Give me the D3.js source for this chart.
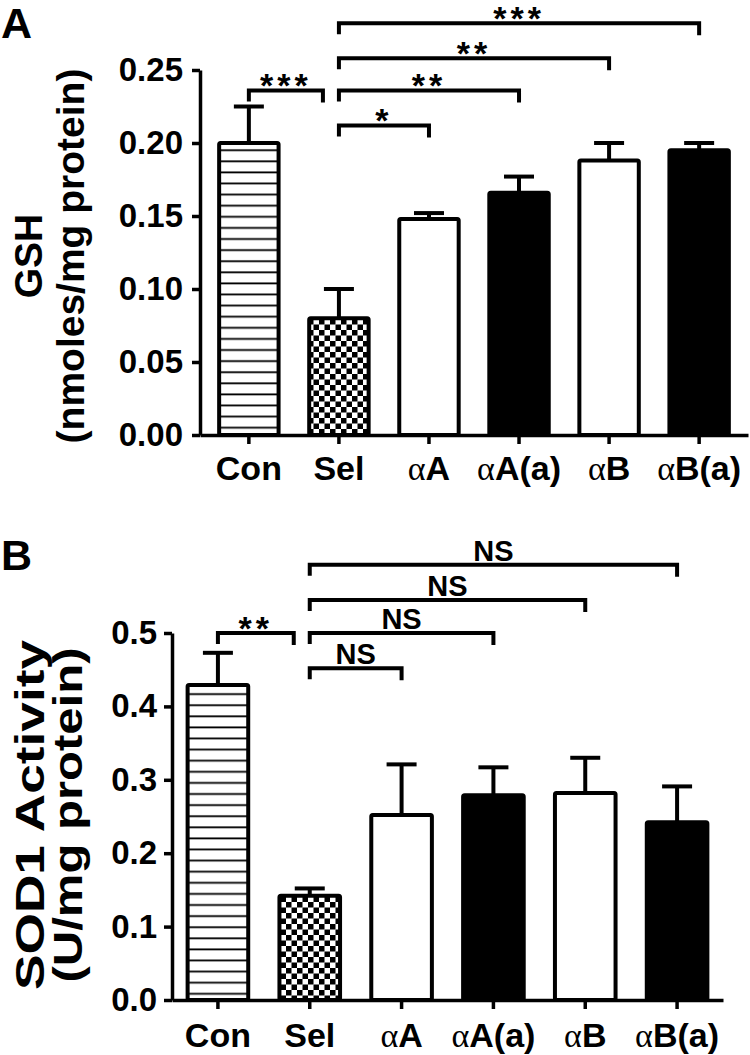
<!DOCTYPE html>
<html>
<head>
<meta charset="utf-8">
<script src="https://cdn.jsdelivr.net/npm/d3@7"></script>
<style>
html,body{margin:0;padding:0;background:#fff;}
svg{display:block;}
</style>
</head>
<body>
<svg id="chart" width="750" height="1055"></svg>
<script>
// ---------- data ----------
const categories = ["Con", "Sel", "αA", "αA(a)", "αB", "αB(a)"];
const fills = ["stripe", "checker", "white", "black", "white", "black"];

const gshMean = [0.200, 0.080, 0.148, 0.166, 0.188, 0.195];
const gshErr  = [0.025, 0.020, 0.004, 0.011, 0.012, 0.005];
const gshTicks = [0, 0.05, 0.10, 0.15, 0.20, 0.25];

const sodMean = [0.429, 0.142, 0.252, 0.279, 0.282, 0.242];
const sodErr  = [0.044, 0.010, 0.069, 0.038, 0.048, 0.049];
const sodTicks = [0, 0.1, 0.2, 0.3, 0.4, 0.5];

// significance brackets: [from, to, level (data units), label]
const gshBrackets = [
  ["Con", "Sel", 0.236, "***"],
  ["Sel", "αA", 0.212, "*"],
  ["Sel", "αA(a)", 0.236, "**"],
  ["Sel", "αB", 0.258, "**"],
  ["Sel", "αB(a)", 0.282, "***"]
];
const sodBrackets = [
  ["Con", "Sel", 0.500, "**"],
  ["Sel", "αA", 0.452, "NS"],
  ["Sel", "αA(a)", 0.500, "NS"],
  ["Sel", "αB", 0.545, "NS"],
  ["Sel", "αB(a)", 0.593, "NS"]
];

// ---------- drawing ----------
const svg = d3.select("#chart");
const FONT = "'Liberation Sans', Arial, Helvetica, sans-serif";
const SERIF = "'Liberation Serif', 'Times New Roman', serif";

const defs = svg.append("defs");
const stripe = defs.append("pattern").attr("id", "stripe")
  .attr("patternUnits", "userSpaceOnUse").attr("width", 11).attr("height", 11.1);
stripe.append("rect").attr("width", 11).attr("height", 11.1).attr("fill", "#fff");
stripe.append("rect").attr("y", 5).attr("width", 11).attr("height", 1.8).attr("fill", "#000");

const checker = defs.append("pattern").attr("id", "checker")
  .attr("patternUnits", "userSpaceOnUse").attr("width", 11).attr("height", 11);
checker.append("rect").attr("width", 11).attr("height", 11).attr("fill", "#fff");
checker.append("rect").attr("width", 5.5).attr("height", 5.5).attr("fill", "#000");
checker.append("rect").attr("x", 5.5).attr("y", 5.5).attr("width", 5.5).attr("height", 5.5).attr("fill", "#000");

function fillFor(f) {
  if (f === "stripe") return "url(#stripe)";
  if (f === "checker") return "url(#checker)";
  return f === "black" ? "#000" : "#fff";
}

function panel(opts) {
  const g = svg.append("g");
  const x = d3.scaleBand().domain(categories)
    .range([opts.x0, opts.x1]).paddingInner(0.34).paddingOuter(opts.po);
  const y = d3.scaleLinear().domain(opts.domain).range([opts.yBottom, opts.yTop]);
  const bw = x.bandwidth();
  const cx = c => x(c) + bw / 2;

  // bars
  g.selectAll("rect.bar").data(categories).join("rect")
    .attr("class", "bar")
    .attr("x", d => x(d))
    .attr("y", (d, i) => y(opts.mean[i]))
    .attr("width", bw)
    .attr("height", (d, i) => y(0) - y(opts.mean[i]))
    .attr("rx", 1.5)
    .attr("fill", (d, i) => fillFor(fills[i]))
    .attr("stroke", "#000").attr("stroke-width", 4);

  // error bars
  const eb = g.selectAll("g.err").data(categories).join("g").attr("class", "err");
  eb.append("line")
    .attr("x1", d => cx(d)).attr("x2", d => cx(d))
    .attr("y1", (d, i) => y(opts.mean[i]))
    .attr("y2", (d, i) => y(opts.mean[i] + opts.err[i]))
    .attr("stroke", "#000").attr("stroke-width", 4);
  eb.append("line")
    .attr("x1", d => cx(d) - 15).attr("x2", d => cx(d) + 15)
    .attr("y1", (d, i) => y(opts.mean[i] + opts.err[i]))
    .attr("y2", (d, i) => y(opts.mean[i] + opts.err[i]))
    .attr("stroke", "#000").attr("stroke-width", 4);

  // y axis
  const ya = g.append("g").attr("transform", `translate(${opts.x0},0)`)
    .call(d3.axisLeft(y).tickValues(opts.ticks).tickFormat(d3.format(opts.fmt))
      .tickSize(8).tickSizeOuter(0).tickPadding(opts.yPad));
  ya.select(".domain").attr("stroke-width", 3.5);
  ya.selectAll(".tick line").attr("stroke-width", 3.5);
  ya.selectAll(".tick text").attr("font-family", FONT).attr("font-weight", "bold")
    .attr("font-size", 33).attr("fill", "#000");

  // x axis
  const xa = g.append("g").attr("transform", `translate(0,${opts.yBottom})`)
    .call(d3.axisBottom(x).tickSize(9).tickSizeOuter(0).tickPadding(opts.xPad));
  xa.select(".domain").attr("stroke-width", 3.5);
  xa.selectAll(".tick line").attr("stroke-width", 3.5);
  xa.selectAll(".tick text").each(function (d) {
    const t = d3.select(this).text("").attr("font-size", 34).attr("fill", "#000");
    if (d.startsWith("α")) {
      t.append("tspan").attr("font-family", SERIF).attr("font-weight", "normal")
        .attr("font-style", "normal").text("α");
      t.append("tspan").attr("font-family", FONT).attr("font-weight", "bold").text(d.slice(1));
    } else {
      t.append("tspan").attr("font-family", FONT).attr("font-weight", "bold").text(d);
    }
  });

  // y label (two lines, rotated)
  const lab = g.append("g")
    .attr("transform", `translate(0,${opts.labelCy}) rotate(-90)`)
    .attr("font-family", FONT).attr("font-weight", "bold")
    .attr("font-size", opts.labelSize).attr("fill", "#000");
  const t1 = lab.append("text").attr("x", 0).attr("y", opts.labelB1)
    .attr("text-anchor", "middle").text(opts.label1);
  const t2 = lab.append("text").attr("x", 0).attr("y", opts.labelB2)
    .attr("text-anchor", "middle").text(opts.label2);
  if (opts.len1) t1.attr("textLength", opts.len1).attr("lengthAdjust", "spacingAndGlyphs");
  if (opts.len2) t2.attr("textLength", opts.len2).attr("lengthAdjust", "spacingAndGlyphs");

  // panel letter
  g.append("text").attr("x", 1).attr("y", opts.letterY)
    .attr("font-family", FONT).attr("font-weight", "bold").attr("font-size", 43)
    .text(opts.letter);

  // brackets
  const br = g.selectAll("g.br").data(opts.brackets).join("g").attr("class", "br");
  br.append("path")
    .attr("d", b => {
      const x1 = cx(b[0]);
      const x2 = cx(b[1]) - (b[0] === "Con" ? 16 : 0);
      const yy = y(b[2]);
      return `M${x1},${yy + 11}V${yy}H${x2}V${yy + 12}`;
    })
    .attr("fill", "none").attr("stroke", "#000").attr("stroke-width", 4)
    .attr("stroke-linejoin", "miter");
  br.append("text")
    .attr("x", b => (cx(b[0]) + cx(b[1]) - (b[0] === "Con" ? 16 : 0)) / 2)
    .attr("y", b => b[3] === "NS" ? y(b[2]) - 4 : y(b[2]) + 7)
    .attr("text-anchor", "middle")
    .attr("font-family", FONT).attr("font-weight", "bold")
    .attr("font-size", b => b[3] === "NS" ? 29 : 34)
    .attr("letter-spacing", b => b[3] === "NS" ? 0 : 4)
    .text(b => b[3]);
}

panel({
  x0: 200, x1: 748, po: 0.2126, domain: [0, 0.25], yBottom: 435, yTop: 70,
  mean: gshMean, err: gshErr, ticks: gshTicks, fmt: ".2f", yPad: 9, xPad: 12,
  label1: "GSH", label2: "(nmoles/mg protein)", labelCy: 256,
  labelSize: 39, labelB1: 42, labelB2: 84,
  letter: "A", letterY: 38, brackets: gshBrackets
});

panel({
  x0: 172, x1: 723, po: 0.17, domain: [0, 0.5], yBottom: 1000, yTop: 633,
  mean: sodMean, err: sodErr, ticks: sodTicks, fmt: ".1f", yPad: 7, xPad: 14,
  label1: "SOD1 Activity", label2: "(U/mg protein)", labelCy: 815,
  labelSize: 40, labelB1: 44, labelB2: 82, len1: 350, len2: 335,
  letter: "B", letterY: 570, brackets: sodBrackets
});
</script>
</body>
</html>
